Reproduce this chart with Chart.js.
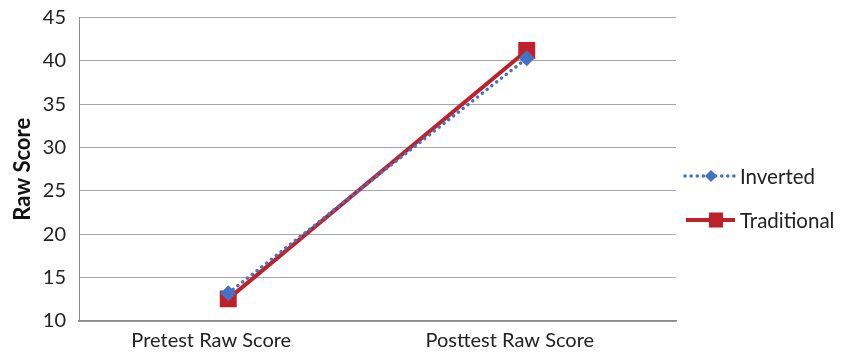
<!DOCTYPE html>
<html><head><meta charset="utf-8">
<script src="https://cdn.jsdelivr.net/npm/chart.js@4"></script>
<style>html,body{margin:0;padding:0;background:#fff}</style>
</head><body>
<canvas id="c" width="844" height="354"></canvas>
<script>
const categories = ['Pretest Raw Score', 'Posttest Raw Score'];
const seriesNames = ['Inverted', 'Traditional'];
const inverted = [13.2, 40.3];
const traditional = [12.55, 41.2];
const yMin = 10, yMax = 45, yStep = 5;
const yTitle = 'Raw Score';

const BLUE = '#4472C4';
const RED = '#C0202A';
const FONT = 'Lato';
const FS = 20;

const legendPlugin = {
  id: 'customLegend',
  afterDraw(chart) {
    const ctx = chart.ctx;
    ctx.save();
    // Inverted
    let y = 176;
    ctx.strokeStyle = BLUE; ctx.lineWidth = 3.5; ctx.lineCap = 'round';
    ctx.setLineDash([0.1, 6]);
    ctx.beginPath(); ctx.moveTo(685, y); ctx.lineTo(737, y); ctx.stroke();
    ctx.setLineDash([]);
    ctx.fillStyle = BLUE;
    ctx.beginPath(); ctx.moveTo(711, y - 6); ctx.lineTo(717, y); ctx.lineTo(711, y + 6); ctx.lineTo(705, y); ctx.closePath(); ctx.fill();
    // Traditional
    y = 220;
    ctx.strokeStyle = RED; ctx.lineWidth = 4; ctx.lineCap = 'butt';
    ctx.beginPath(); ctx.moveTo(686, y); ctx.lineTo(735, y); ctx.stroke();
    ctx.fillStyle = RED;
    ctx.fillRect(709, y - 7.5, 14, 15);
    // text
    ctx.fillStyle = '#222';
    ctx.font = '20.5px ' + FONT;
    ctx.textBaseline = 'middle'; ctx.textAlign = 'left';
    ctx.fillText(seriesNames[0], 740, 177);
    ctx.fillText(seriesNames[1], 740, 221);
    ctx.restore();
  }
};

new Chart(document.getElementById('c'), {
  type: 'line',
  data: {
    labels: categories,
    datasets: [
      {
        label: seriesNames[1], data: traditional,
        borderColor: RED, backgroundColor: RED, borderWidth: 4,
        pointStyle: 'rect', pointRadius: 12, pointHoverRadius: 12,
        pointBorderWidth: 0, tension: 0, order: 2
      },
      {
        label: seriesNames[0], data: inverted,
        borderColor: BLUE, backgroundColor: BLUE, borderWidth: 3.5,
        borderDash: [0.1, 6], borderCapStyle: 'round',
        pointStyle: 'rectRot', pointRadius: 8, pointHoverRadius: 8,
        pointBorderWidth: 0, tension: 0, order: 1
      }
    ]
  },
  options: {
    responsive: false,
    animation: false,
    events: [],
    layout: { padding: { top: 17.5, right: 168, bottom: 0, left: 0 } },
    plugins: { legend: { display: false }, tooltip: { enabled: false } },
    scales: {
      x: {
        offset: true,
        afterFit: (s) => { s.height = 33; s.paddingLeft = 0; s.paddingRight = 0; },
        grid: { color: 'rgba(0,0,0,0)', drawTicks: false },
        border: { display: true, color: '#8a8a8a', width: 1.5 },
        ticks: { color: '#222', font: { family: FONT, size: FS }, padding: 8, labelOffset: -17 }
      },
      y: {
        min: yMin, max: yMax,
        afterFit: (s) => { s.width = 79; s.paddingTop = 0; s.paddingBottom = 0; },
        grid: { color: '#a6a6a6', lineWidth: 1, drawTicks: false },
        border: { display: true, color: '#8a8a8a', width: 1 },
        ticks: { stepSize: yStep, color: '#222', font: { family: FONT, size: FS }, padding: 13 },
        title: {
          display: true, text: yTitle, color: '#111',
          font: { family: FONT, size: 22, weight: 'bold' },
          padding: { top: 10, bottom: 0 }
        }
      }
    }
  },
  plugins: [legendPlugin]
});
</script>
</body></html>
